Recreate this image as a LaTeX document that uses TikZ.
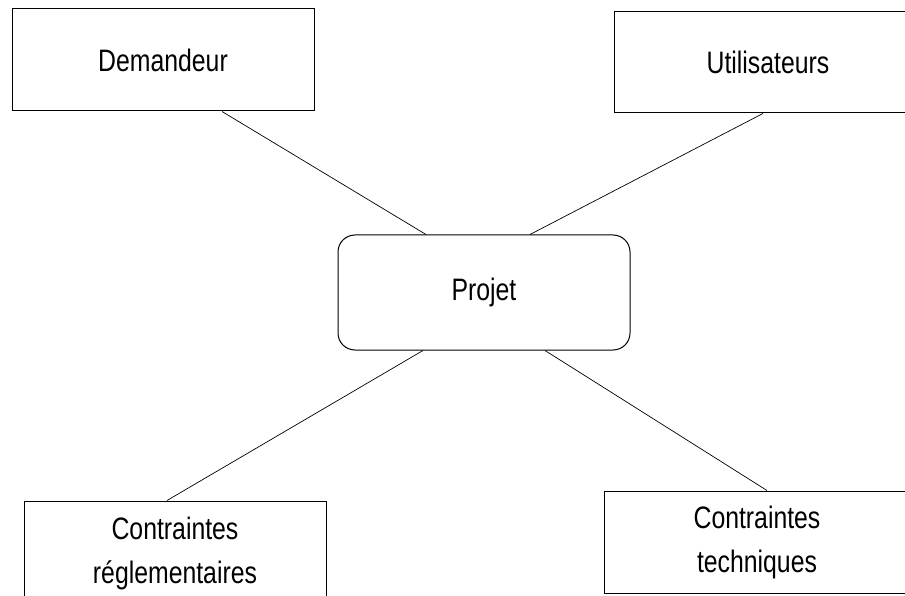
\documentclass[tikz,border=0pt]{standalone}
\usepackage{fontspec}
\setmainfont[FakeStretch=0.8]{Liberation Sans}
\begin{document}
\begin{tikzpicture}[x=1pt,y=-1pt,
  box/.style={draw, line width=1pt, rectangle, align=center,
    inner sep=0pt, font=\fontsize{31}{44}\selectfont},
  hub/.style={box, rounded corners=17pt},
  link/.style={line width=0.7pt}]
  \useasboundingbox (0,0) rectangle (905,596);
  \clip (0,0) rectangle (905,596);

  % stakeholder boxes
  \node[box, minimum width=302pt, minimum height=102pt] (dem) at (163,60) {Demandeur};
  \node[box, minimum width=308pt, minimum height=101.5pt] (usr) at (768,62.2) {Utilisateurs};
  \node[hub, minimum width=292pt, minimum height=115pt] (proj) at (484,292.5) {Projet};
  \node[box, minimum width=302pt, minimum height=104pt] (regl) at (175,553) {Contraintes\\réglementaires};
  \node[box, minimum width=306pt, minimum height=102pt] (tech) at (757,542) {Contraintes\\techniques};

  % links to the project
  \draw[link] ([xshift=59pt]dem.south) -- ([xshift=-58pt]proj.north);
  \draw[link] ([xshift=-5pt]usr.south) -- ([xshift=46pt]proj.north);
  \draw[link] ([xshift=-61pt]proj.south) -- ([xshift=-8pt]regl.north);
  \draw[link] ([xshift=61pt]proj.south) -- ([xshift=10pt]tech.north);
\end{tikzpicture}
\end{document}
